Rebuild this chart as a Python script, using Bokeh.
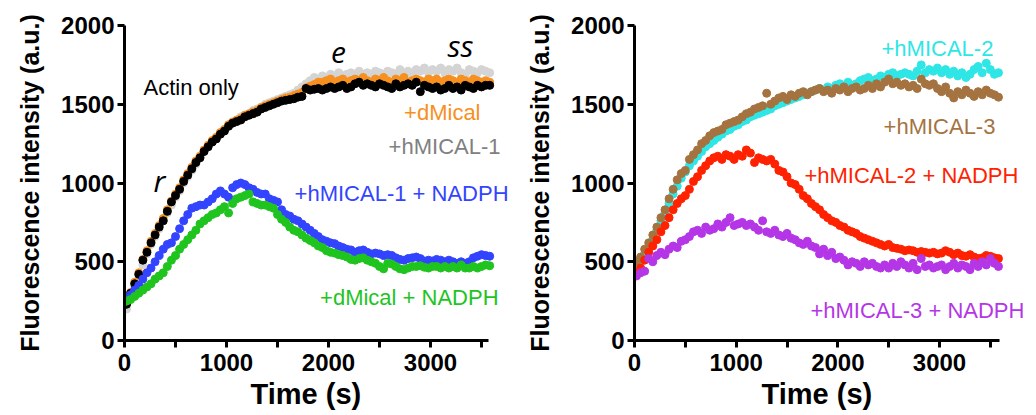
from bokeh.plotting import figure
from bokeh.models import Range1d, FixedTicker, Label, Title
from bokeh.layouts import row
from bokeh.embed import file_html
from bokeh.resources import INLINE

# ---------------- data ----------------
time_s = [20, 60, 100, 140, 180, 220, 260, 300, 340, 380, 420, 460, 500, 540, 580, 620, 660, 700, 740, 780,
          820, 860, 900, 940, 980, 1020, 1060, 1100, 1140, 1180, 1220, 1260, 1300, 1340, 1380, 1420, 1460, 1500, 1540, 1580,
          1620, 1660, 1700, 1740, 1780, 1820, 1860, 1900, 1940, 1980, 2020, 2060, 2100, 2140, 2180, 2220, 2260, 2300, 2340, 2380,
          2420, 2460, 2500, 2540, 2580, 2620, 2660, 2700, 2740, 2780, 2820, 2860, 2900, 2940, 2980, 3020, 3060, 3100, 3140, 3180,
          3220, 3260, 3300, 3340, 3380, 3420, 3460, 3500, 3540, 3580]

actin_only = [230, 300, 360, 420, 510, 560, 620, 670, 720, 760, 820, 880, 920, 960, 1010, 1050, 1090, 1130, 1160, 1200,
              1230, 1260, 1280, 1310, 1330, 1360, 1380, 1390, 1400, 1420, 1430, 1440, 1450, 1470, 1480, 1490, 1500, 1510, 1520, 1525,
              1530, 1535, 1545, 1550, 1600, 1590, 1595, 1600, 1590, 1600, 1610, 1600, 1610, 1620, 1600, 1610, 1630, 1640, 1620, 1630,
              1620, 1610, 1630, 1620, 1610, 1600, 1630, 1610, 1620, 1630, 1620, 1640, 1580, 1620, 1610, 1600, 1610, 1590, 1600, 1620,
              1600, 1610, 1590, 1620, 1610, 1600, 1620, 1610, 1620, 1620]

dmical = [235, 305, 370, 430, 515, 570, 630, 680, 730, 775, 830, 885, 930, 970, 1020, 1060, 1100, 1140, 1170, 1210,
          1240, 1270, 1290, 1320, 1340, 1370, 1385, 1400, 1410, 1430, 1440, 1450, 1460, 1480, 1490, 1500, 1510, 1520, 1530, 1540,
          1545, 1555, 1565, 1575, 1605, 1615, 1625, 1640, 1640, 1650, 1660, 1640, 1650, 1660, 1640, 1650, 1660, 1650, 1670, 1650,
          1640, 1660, 1650, 1670, 1650, 1640, 1660, 1650, 1670, 1640, 1650, 1660, 1650, 1640, 1660, 1650, 1660, 1640, 1650, 1660,
          1650, 1640, 1660, 1650, 1640, 1660, 1650, 1640, 1650, 1640]

hmical1 = [200, 270, 340, 410, 480, 550, 610, 660, 710, 760, 810, 860, 910, 950, 1000, 1040, 1080, 1120, 1160, 1200,
           1230, 1260, 1290, 1320, 1340, 1370, 1390, 1400, 1420, 1430, 1440, 1460, 1470, 1480, 1500, 1510, 1520, 1530, 1540, 1550,
           1560, 1570, 1590, 1610, 1630, 1650, 1670, 1660, 1680, 1670, 1690, 1680, 1700, 1680, 1690, 1700, 1690, 1710, 1690, 1700,
           1680, 1710, 1700, 1690, 1710, 1700, 1690, 1720, 1700, 1710, 1690, 1720, 1710, 1730, 1700, 1720, 1710, 1730, 1700, 1720,
           1710, 1730, 1700, 1690, 1720, 1710, 1700, 1720, 1710, 1700]

hmical1_nadph = [270, 290, 320, 350, 390, 430, 460, 500, 540, 580, 610, 620, 660, 710, 760, 800, 840, 850, 860, 860,
                 880, 900, 930, 950, 930, 910, 970, 990, 1000, 990, 970, 960, 940, 930, 930, 900, 890, 880, 830, 800,
                 790, 770, 760, 740, 720, 700, 680, 660, 640, 630, 620, 615, 600, 590, 580, 575, 560, 570, 575, 560,
                 550, 555, 550, 540, 545, 540, 525, 515, 510, 520, 525, 530, 520, 505, 510, 505, 515, 510, 500, 510,
                 500, 490, 500, 490, 500, 525, 535, 545, 540, 535]

dmical_nadph = [250, 260, 280, 300, 320, 340, 360, 390, 410, 430, 470, 510, 540, 580, 610, 640, 670, 700, 740, 760,
                780, 800, 810, 830, 850, 810, 870, 900, 910, 920, 930, 880, 870, 860, 860, 850, 840, 800, 770, 750,
                720, 700, 690, 670, 650, 635, 620, 600, 590, 570, 560, 555, 545, 540, 530, 515, 510, 520, 525, 510,
                500, 490, 470, 455, 490, 485, 470, 455, 450, 460, 470, 470, 475, 465, 460, 470, 470, 460, 470, 460,
                470, 460, 480, 460, 460, 470, 460, 470, 480, 475]

hmical2 = [460, 500, 550, 590, 640, 700, 760, 810, 870, 930, 980, 1030, 1070, 1110, 1140, 1170, 1200, 1230, 1250, 1270,
           1290, 1310, 1330, 1340, 1360, 1370, 1390, 1400, 1420, 1430, 1440, 1450, 1460, 1470, 1490, 1500, 1510, 1520, 1530, 1540,
           1550, 1560, 1570, 1580, 1590, 1600, 1590, 1610, 1600, 1620, 1630, 1610, 1640, 1620, 1630, 1650, 1660, 1670, 1650, 1660,
           1680, 1670, 1690, 1700, 1680, 1690, 1700, 1690, 1680, 1710, 1750, 1700, 1720, 1710, 1730, 1700, 1720, 1690, 1710, 1680,
           1700, 1670, 1690, 1720, 1740, 1700, 1760, 1720, 1690, 1700]

hmical3 = [500, 530, 580, 620, 670, 720, 780, 830, 900, 960, 1020, 1060, 1080, 1150, 1180, 1210, 1250, 1270, 1300, 1320,
           1330, 1340, 1370, 1380, 1390, 1400, 1420, 1440, 1450, 1470, 1480, 1490, 1570, 1500, 1520, 1540, 1550, 1530, 1560, 1550,
           1570, 1580, 1560, 1580, 1590, 1600, 1580, 1590, 1570, 1600, 1590, 1610, 1580, 1600, 1610, 1590, 1600, 1620, 1600, 1630,
           1610, 1640, 1660, 1630, 1640, 1620, 1630, 1610, 1620, 1600, 1660, 1630, 1620, 1630, 1600, 1580, 1610, 1570, 1540, 1580,
           1560, 1590, 1570, 1550, 1580, 1560, 1590, 1570, 1560, 1545]

hmical2_nadph = [430, 460, 510, 560, 600, 640, 690, 730, 780, 830, 870, 900, 920, 960, 1010, 1040, 1080, 1110, 1140, 1160,
                 1170, 1150, 1180, 1170, 1150, 1180, 1170, 1210, 1190, 1130, 1160, 1150, 1140, 1150, 1120, 1080, 1070, 1040, 1000, 990,
                 960, 920, 900, 870, 850, 830, 800, 780, 760, 750, 730, 720, 700, 690, 680, 660, 650, 640, 630, 620,
                 610, 600, 610, 590, 585, 580, 570, 575, 570, 560, 565, 560, 555, 560, 550, 555, 570, 560, 545, 555,
                 540, 535, 545, 530, 520, 525, 540, 535, 525, 520]

hmical3_nadph = [410, 430, 440, 520, 500, 540, 560, 545, 580, 600, 590, 630, 640, 660, 690, 700, 680, 720, 700, 710,
                 740, 720, 750, 780, 730, 740, 750, 730, 740, 720, 700, 760, 690, 680, 700, 670, 660, 680, 650, 640,
                 620, 610, 630, 600, 590, 550, 580, 540, 560, 520, 530, 510, 480, 500, 490, 470, 500, 480, 490, 470,
                 460, 480, 460, 490, 470, 500, 480, 460, 490, 450, 520, 470, 480, 460, 470, 480, 450, 470, 490, 460,
                 480, 470, 450, 490, 470, 500, 480, 520, 490, 470]

x_ticks = [0, 1000, 2000, 3000]
x_minor = [500, 1500, 2500, 3500]
y_ticks = [0, 500, 1000, 1500, 2000]

FONT = "Liberation Sans"


def make_fig(width, left, right, xend, xbound, title_offset):
    p = figure(width=width, height=415, x_range=Range1d(0, xend), y_range=Range1d(0, 2000),
               output_backend="svg", toolbar_location=None,
               min_border_left=left, min_border_right=right, min_border_top=25, min_border_bottom=75)
    p.grid.visible = False
    p.outline_line_color = None
    p.background_fill_color = "white"
    p.xaxis.bounds = (0, xbound)
    p.xaxis.ticker = FixedTicker(ticks=x_ticks, minor_ticks=x_minor)
    p.yaxis.ticker = FixedTicker(ticks=y_ticks)
    for ax in (p.xaxis[0], p.yaxis[0]):
        ax.axis_line_width = 3
        ax.axis_line_color = "black"
        ax.major_tick_line_width = 3
        ax.major_tick_line_color = "black"
        ax.major_tick_in = 0
        ax.major_tick_out = 7
        ax.minor_tick_line_width = 3
        ax.minor_tick_line_color = "black"
        ax.minor_tick_in = 0
        ax.minor_tick_out = 7
        ax.major_label_text_font = FONT
        ax.major_label_text_font_style = "bold"
        ax.major_label_text_font_size = "24px"
        ax.major_label_text_color = "black"
        ax.axis_label_text_font = FONT
        ax.axis_label_text_font_style = "bold"
        ax.axis_label_text_color = "black"
    p.yaxis.minor_tick_out = 0
    p.xaxis.major_label_standoff = 6
    p.yaxis.axis_label = "Fluorescence intensity (a.u.)"
    p.yaxis.axis_label_text_font_size = "25px"
    p.yaxis.major_label_standoff = 3
    p.yaxis.axis_label_standoff = 14
    p.add_layout(Title(text="Time (s)", align="left", offset=title_offset, standoff=5,
                       text_font=FONT, text_font_size="29px", text_font_style="bold",
                       text_color="black"), "below")
    return p


def add_label(p, x, y, text, color, align="right", size="22px", font=FONT, style="normal"):
    p.add_layout(Label(x=x, y=y, text=text, text_color=color, text_align=align,
                       text_baseline="middle", text_font=font, text_font_size=size,
                       text_font_style=style))


DOT = 8

# ---------------- left panel ----------------
p1 = make_fig(520, 124, 5, 3833, 3570, 126)
p1.scatter(time_s, hmical1, size=DOT, color="#d4d4d4")
p1.scatter(time_s, dmical, size=DOT, color="#f7901e")
p1.scatter(time_s, actin_only, size=DOT, color="#000000")
p1.scatter(time_s, hmical1_nadph, size=DOT, color="#3344ff")
p1.scatter(time_s, dmical_nadph, size=DOT, color="#1fc41f")

add_label(p1, 186, 1606, "Actin only", "black", align="left")
add_label(p1, 3490, 1448, "+dMical", "#f7901e")
add_label(p1, 3686, 1232, "+hMICAL-1", "#808080")
add_label(p1, 3765, 933, "+hMICAL-1 + NADPH", "#3344ff")
add_label(p1, 3667, 273, "+dMical + NADPH", "#1fc41f")
add_label(p1, 2098, 1829, "e", "black", align="center", size="30px", font="Open Sans", style="italic")
add_label(p1, 3294, 1873, "ss", "black", align="center", size="30px", font="Open Sans", style="italic")
add_label(p1, 343, 1016, "r", "black", align="center", size="30px", font="Open Sans", style="italic")

# ---------------- right panel ----------------
p2 = make_fig(516, 114, 6, 3895, 3590, 127)
p2.scatter(time_s, hmical2, size=DOT, color="#2ee6e6")
p2.scatter(time_s, hmical3, size=DOT, color="#a5733f")
p2.scatter(time_s, hmical2_nadph, size=DOT, color="#ff2200")
p2.scatter(time_s, hmical3_nadph, size=DOT, color="#b536e6")

add_label(p2, 3530, 1854, "+hMICAL-2", "#2ee6e6")
add_label(p2, 3550, 1359, "+hMICAL-3", "#a5733f")
add_label(p2, 3776, 1048, "+hMICAL-2 + NADPH", "#ff2200")
add_label(p2, 3835, 190, "+hMICAL-3 + NADPH", "#b536e6")

layout = row(p1, p2)
open("out.html", "w").write(file_html(layout, INLINE))
